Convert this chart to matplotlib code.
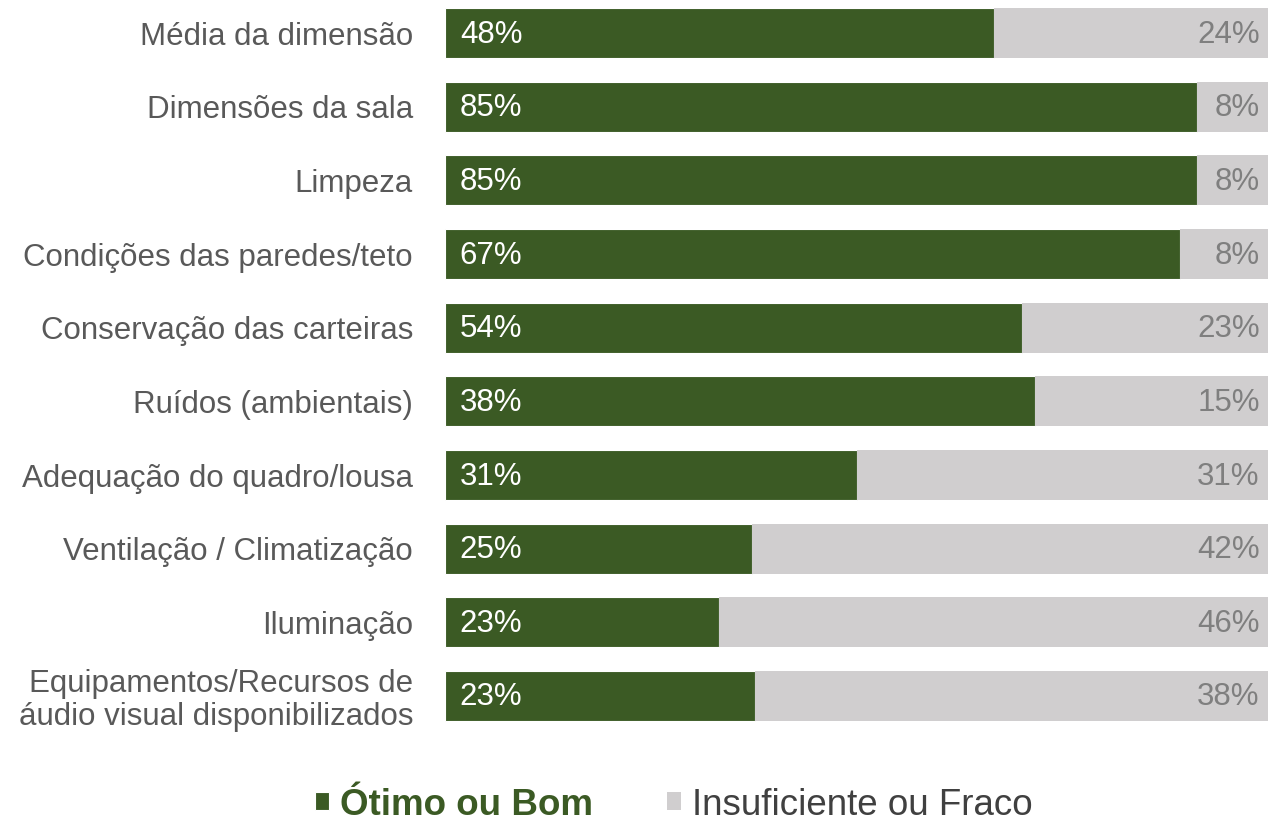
import numpy as np
import matplotlib.pyplot as plt

plt.rcParams['font.family'] = ['Liberation Sans', 'DejaVu Sans']

categories = [
    "Média da dimensão",
    "Dimensões da sala",
    "Limpeza",
    "Condições das paredes/teto",
    "Conservação das carteiras",
    "Ruídos (ambientais)",
    "Adequação do quadro/lousa",
    "Ventilação / Climatização",
    "Iluminação",
    "Equipamentos/Recursos de\náudio visual disponibilizados",
]
good = [48, 85, 85, 67, 54, 38, 31, 25, 23, 23]
poor = [24, 8, 8, 8, 23, 15, 31, 42, 46, 38]

green = "#3b5a24"
grey = "#d0cecf"

good_a = np.array(good, dtype=float)
poor_a = np.array(poor, dtype=float)
# bars are scaled to the share among the two shown groups
good_share = good_a / (good_a + poor_a) * 100
poor_share = 100 - good_share

fig = plt.figure(figsize=(12.68, 8.21), dpi=100)
ax = fig.add_axes([445 / 1268, 0.1074, 1 - 445 / 1268, 0.8926])

y = np.arange(len(categories))
ax.barh(y, good_share, height=0.68, color=green, edgecolor="white",
        linewidth=0.8, label="Ótimo ou Bom")
ax.barh(y, poor_share, left=good_share, height=0.68, color=grey,
        linewidth=0, label="Insuficiente ou Fraco")

fs = 22.5
for i in range(len(categories)):
    ax.text(1.8, y[i] + 0.02, f"{good[i]}%", color="white", fontsize=fs,
            va="center", ha="left")
    ax.text(99.0, y[i] + 0.02, f"{poor[i]}%", color="#7f7f7f", fontsize=fs,
            va="center", ha="right")

ax.set_xlim(0, 100)
ax.set_ylim(9.5, -0.45)
ax.set_yticks(y)
ax.set_yticklabels(categories, fontsize=fs, color="#595959",
                   linespacing=1.1)
ax.tick_params(axis="y", length=0, pad=23)
ax.set_xticks([])
for s in ax.spines.values():
    s.set_visible(False)

leg = fig.legend(loc="center", bbox_to_anchor=(674 / 1268, 1 - 805 / 821),
                 ncol=2, frameon=False, fontsize=26.5, handlelength=0.38,
                 handleheight=0.38, handletextpad=0.3, columnspacing=2.0)
texts = leg.get_texts()
texts[0].set_color(green)
texts[0].set_fontweight("bold")
texts[1].set_color("#404040")

fig.savefig("out.png", dpi=100)
